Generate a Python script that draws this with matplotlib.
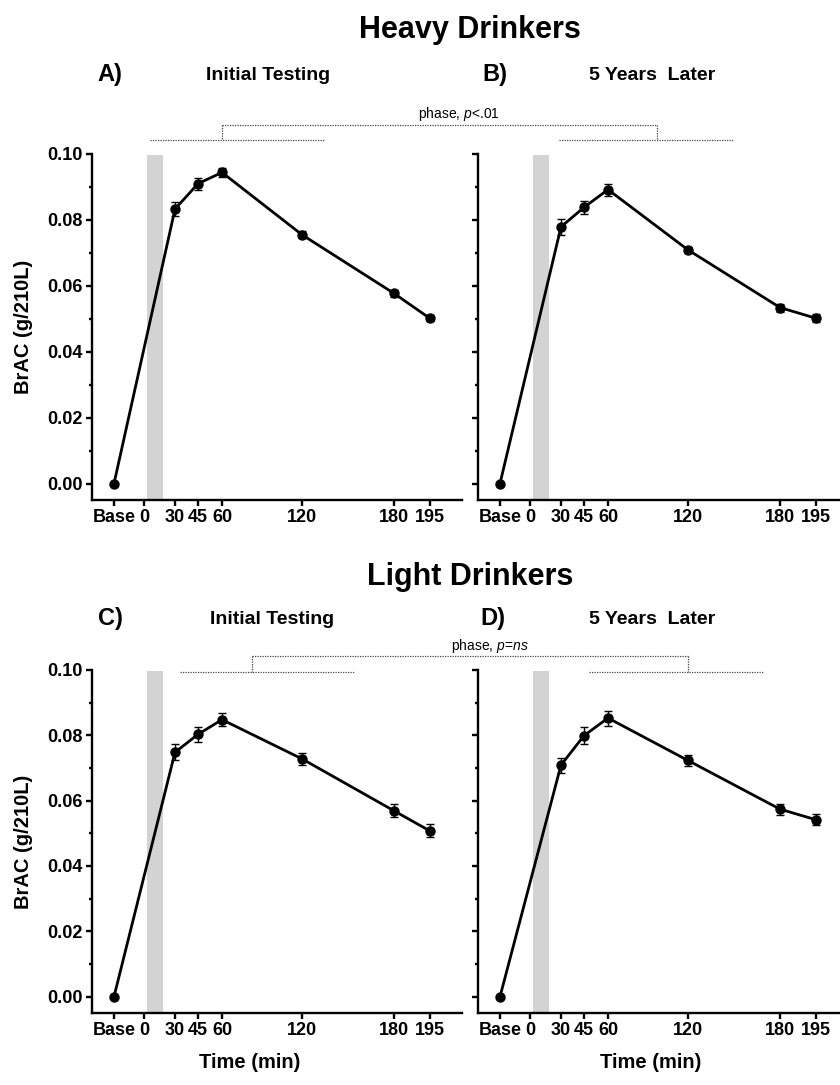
import numpy as np
import matplotlib
matplotlib.use("Agg")
import matplotlib.pyplot as plt
from matplotlib.lines import Line2D

plt.rcParams['font.family'] = ['Liberation Sans', 'DejaVu Sans']
plt.rcParams['mathtext.fontset'] = 'custom'
plt.rcParams['mathtext.rm'] = 'Liberation Sans'
plt.rcParams['mathtext.it'] = 'Liberation Sans:italic'

# ---------------- data ----------------
BASE = -20  # plotting position used for the "Base" sample
times = [BASE, 30, 45, 60, 120, 180, 195]
tick_times = [BASE, 0, 30, 45, 60, 120, 180, 195]
tick_labels = ["Base", "0", "30", "45", "60", "120", "180", "195"]

heavy_initial = [0.0, 0.0833, 0.0910, 0.0944, 0.0755, 0.0577, 0.0502]
heavy_initial_err = [0.0, 0.0020, 0.0018, 0.0015, 0.0010, 0.0010, 0.0010]
heavy_later = [0.0, 0.0779, 0.0838, 0.0892, 0.0709, 0.0534, 0.0502]
heavy_later_err = [0.0, 0.0025, 0.0020, 0.0018, 0.0010, 0.0012, 0.0012]
light_initial = [0.0, 0.0748, 0.0803, 0.0848, 0.0728, 0.0569, 0.0508]
light_initial_err = [0.0, 0.0025, 0.0023, 0.0020, 0.0018, 0.0020, 0.0020]
light_later = [0.0, 0.0709, 0.0799, 0.0853, 0.0723, 0.0574, 0.0542]
light_later_err = [0.0, 0.0023, 0.0025, 0.0023, 0.0017, 0.0017, 0.0018]

drink_start, drink_end, drink_top = 3, 18.5, 0.0997

# piecewise axis layout (minutes -> axis units)
knots_min = np.array([-40, BASE, 0, 30, 45, 60, 120, 180, 195, 209])
knots_u = np.array([0, 22, 52, 83, 106, 130, 210, 302, 337.5, 370])

def fwd(x):
    return np.interp(x, knots_min, knots_u)

def inv(u):
    return np.interp(u, knots_u, knots_min)

W, H = 840, 1085
fig = plt.figure(figsize=(W / 100, H / 100), dpi=100)

def fx(px):
    return px / W

def fy(py):
    return 1 - py / H

def make_ax(left, top, bottom, width=370, ylabels=True):
    ax = fig.add_axes([fx(left), fy(bottom), width / W, (bottom - top) / H])
    ax.set_xscale('function', functions=(fwd, inv))
    ax.set_xlim(knots_min[0], knots_min[-1])
    ax.set_ylim(-0.005, 0.10)
    for s in ['top', 'right']:
        ax.spines[s].set_visible(False)
    for s in ['left', 'bottom']:
        ax.spines[s].set_linewidth(1.7)
    ax.spines['left'].set_bounds(-0.005, 0.10)
    ax.set_xticks(tick_times)
    ax.set_xticklabels(tick_labels, fontsize=13, fontweight='bold')
    ax.set_yticks(np.arange(0, 0.1001, 0.02))
    ax.set_yticks(np.arange(0.01, 0.1, 0.02), minor=True)
    if ylabels:
        ax.set_yticklabels([f"{v:.2f}" for v in np.arange(0, 0.1001, 0.02)],
                           fontsize=13, fontweight='bold')
    else:
        ax.set_yticklabels([])
    ax.tick_params(axis='both', which='major', direction='out', length=4.5,
                   width=1.7, pad=2, colors='black')
    ax.tick_params(axis='y', which='minor', direction='out', length=2.5,
                   width=1.7)
    ax.tick_params(axis='x', which='minor', bottom=False)
    return ax

def draw(ax, vals, errs):
    ax.fill_between([drink_start, drink_end], -0.005, drink_top,
                    color='#d3d3d3', lw=0, zorder=0)
    ax.plot(times, vals, '-', color='black', lw=2.0, zorder=3)
    ax.errorbar(times[1:], vals[1:], yerr=errs[1:], fmt='o', color='black',
                ms=6.5, elinewidth=1.0, capsize=3.2, capthick=1.0, zorder=4)
    ax.plot(times[:1], vals[:1], 'o', color='black', ms=6.5, zorder=4)

axA = make_ax(92, 154, 500)
axB = make_ax(478, 154, 500, ylabels=False)
axC = make_ax(92, 670, 1013)
axD = make_ax(478, 670, 1013, ylabels=False)

draw(axA, heavy_initial, heavy_initial_err)
draw(axB, heavy_later, heavy_later_err)
draw(axC, light_initial, light_initial_err)
draw(axD, light_later, light_later_err)

for ax in (axA, axC):
    ax.set_ylabel("BrAC (g/210L)", fontsize=14.5, fontweight='bold')
    ax.yaxis.set_label_coords(-59 / 370, 0.5)

def ftext(px, py, s, **kw):
    fig.text(fx(px), fy(py), s, ha='center', va='center', **kw)

ftext(250, 1063, "Time (min)", fontsize=14.5, fontweight='bold')
ftext(651, 1063, "Time (min)", fontsize=14.5, fontweight='bold')

ftext(470, 30, "Heavy Drinkers", fontsize=22, fontweight='bold')
ftext(470, 577, "Light Drinkers", fontsize=22, fontweight='bold')
ftext(110, 75, "A)", fontsize=17, fontweight='bold')
ftext(268, 75, "Initial Testing", fontsize=14, fontweight='bold')
ftext(495, 75, "B)", fontsize=17, fontweight='bold')
ftext(652, 75, "5 Years  Later", fontsize=14, fontweight='bold')
ftext(110, 618, "C)", fontsize=17, fontweight='bold')
ftext(272, 619, "Initial Testing", fontsize=14, fontweight='bold')
ftext(493, 618, "D)", fontsize=17, fontweight='bold')
ftext(652, 619, "5 Years  Later", fontsize=14, fontweight='bold')

def fline(xs, ys):
    fig.add_artist(Line2D([fx(x) for x in xs], [fy(y) for y in ys],
                          transform=fig.transFigure, color='#444444',
                          lw=0.9, ls=(0, (1, 1))))

def bracket(y_long, y_short, x_left, x_right, shortA, shortB, label, lx, ly):
    fline([x_left, x_right], [y_long, y_long])
    fline([x_left, x_left], [y_long, y_short])
    fline([x_right, x_right], [y_long, y_short])
    fline(shortA, [y_short, y_short])
    fline(shortB, [y_short, y_short])
    ftext(lx, ly, label, fontsize=10)

bracket(125, 140, 222, 657, [150, 324], [559, 733], "phase, $p$<.01", 459, 114)
bracket(656, 672, 252, 688, [180, 354], [589, 763], "phase, $p$=$ns$", 490, 646)

fig.savefig("out.png", dpi=100)
